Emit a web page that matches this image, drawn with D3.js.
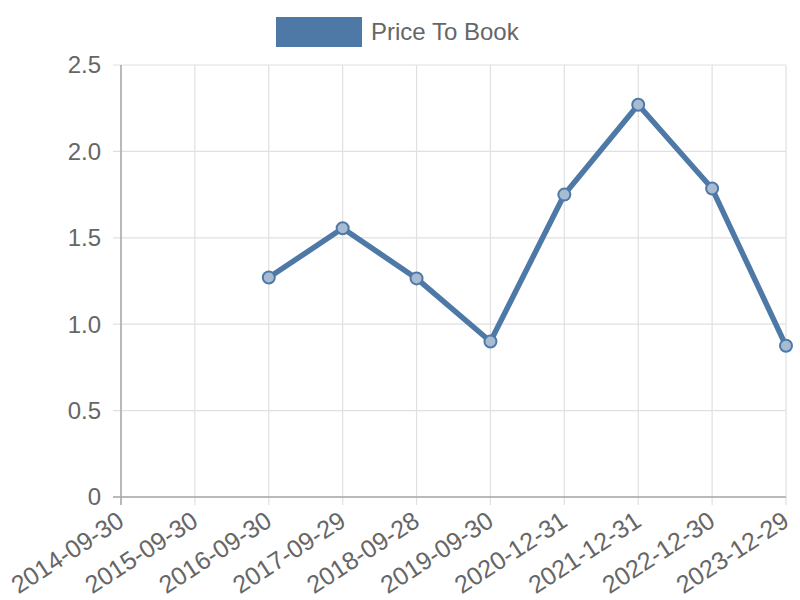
<!DOCTYPE html>
<html><head><meta charset="utf-8">
<script src="https://cdn.jsdelivr.net/npm/d3@7"></script>
<style>body{margin:0;background:#fff;} text{font-family:"Liberation Sans",Arial,sans-serif;}</style>
</head><body>
<svg id="c" width="800" height="600"></svg>
<script>
const categories = ["2014-09-30","2015-09-30","2016-09-30","2017-09-29","2018-09-28","2019-09-30","2020-12-31","2021-12-31","2022-12-30","2023-12-29"];
const priceToBook = [null,null,1.27,1.555,1.265,0.9,1.75,2.27,1.785,0.875];
const yTicks = [0,0.5,1.0,1.5,2.0,2.5];
const seriesName = "Price To Book";
const color = "#4e79a7";

const svg = d3.select("#c");
const L=121, R=786, T=65, B=497;
const x = d3.scalePoint().domain(categories).range([L,R]);
const y = d3.scaleLinear().domain([0,2.5]).range([B,T]);

const g = svg.append("g");
g.selectAll(".hg").data(yTicks).join("line")
  .attr("x1",L-8).attr("x2",R).attr("y1",d=>y(d)).attr("y2",d=>y(d))
  .attr("stroke","#e0e0e0").attr("stroke-width",1.2);
g.selectAll(".vg").data(categories).join("line")
  .attr("x1",d=>x(d)).attr("x2",d=>x(d)).attr("y1",T).attr("y2",B+8)
  .attr("stroke","#e0e0e0").attr("stroke-width",1.2);
svg.append("line").attr("x1",L).attr("x2",L).attr("y1",T).attr("y2",B+8).attr("stroke","#a8a8a8").attr("stroke-width",1.5);
svg.append("line").attr("x1",L-8).attr("x2",R).attr("y1",B).attr("y2",B).attr("stroke","#a8a8a8").attr("stroke-width",1.5);

svg.selectAll(".yl").data(yTicks).join("text")
  .attr("x",L-20).attr("y",d=>y(d)).attr("dy","0.35em")
  .attr("text-anchor","end").attr("fill","#666").attr("font-size",24)
  .text(d=>d===0?"0":d.toFixed(1));
svg.selectAll(".xl").data(categories).join("text")
  .attr("transform",d=>`translate(${x(d)-5},${B+13}) rotate(-33)`)
  .attr("text-anchor","end").attr("fill","#666").attr("font-size",25).attr("dy","0.71em")
  .text(d=>d);

const pts = categories.map((c,i)=>({c,v:priceToBook[i]}));
const line = d3.line().defined(d=>d.v!=null).x(d=>x(d.c)).y(d=>y(d.v));
svg.append("path").datum(pts).attr("d",line).attr("fill","none")
  .attr("stroke",color).attr("stroke-width",5.5).attr("stroke-linejoin","round");
svg.selectAll(".pt").data(pts.filter(d=>d.v!=null)).join("circle")
  .attr("cx",d=>x(d.c)).attr("cy",d=>y(d.v)).attr("r",6)
  .attr("fill","#a7bcd3").attr("stroke",color).attr("stroke-width",2);

svg.append("rect").attr("x",276).attr("y",17).attr("width",86).attr("height",30).attr("fill",color);
svg.append("text").attr("x",371).attr("y",32).attr("dy","0.35em").attr("fill","#666").attr("font-size",24).text(seriesName);
</script>
</body></html>
